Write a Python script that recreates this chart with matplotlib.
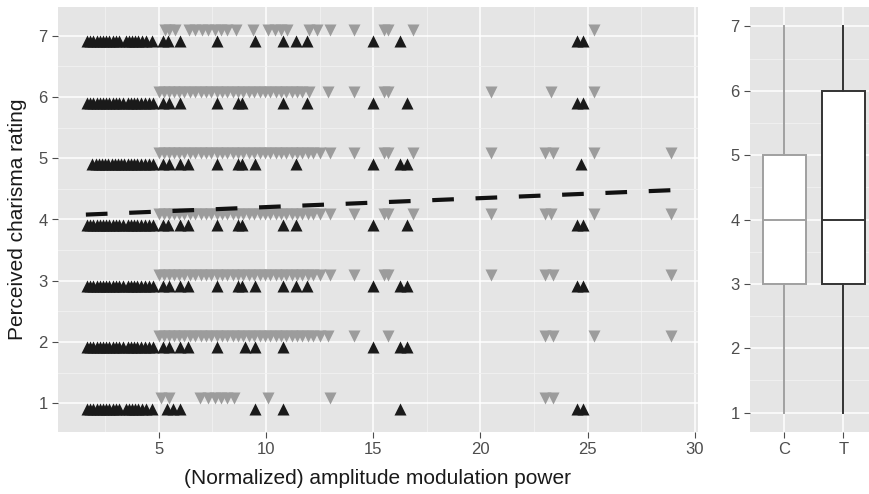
import numpy as np
import matplotlib.pyplot as plt
from matplotlib.ticker import MultipleLocator

plt.rcParams['font.family'] = ['Liberation Sans', 'DejaVu Sans']

''' Ratings (y) '''
ratings = [1, 2, 3, 4, 5, 6, 7]

''' Black upward triangles: x values per rating '''
black_r1 = [1.65, 1.8, 1.95, 2.1, 2.25, 2.4, 2.55, 2.7, 2.85, 3.0, 3.15, 3.45, 3.6, 3.75, 3.9, 4.05, 4.2, 4.4, 4.7,
            5.4, 5.65, 6.0, 9.5, 10.8, 16.25, 24.5, 24.8]
black_r2 = [1.65, 1.8, 1.95, 2.1, 2.25, 2.4, 2.55, 2.7, 2.85, 3.0, 3.15, 3.35, 3.55, 3.7, 3.85, 4.0, 4.15, 4.35, 4.55, 4.75,
            5.2, 5.5, 6.0, 6.35, 7.7, 9.0, 9.5, 10.8, 15.0, 16.25, 16.6]
black_r3 = [1.65, 1.8, 1.95, 2.1, 2.25, 2.4, 2.55, 2.7, 2.85, 3.0, 3.15, 3.35, 3.55, 3.7, 3.85, 4.0, 4.15, 4.35, 4.55, 4.75,
            5.2, 5.5, 6.0, 6.35, 7.7, 8.7, 8.9, 9.5, 10.8, 11.4, 11.9, 15.0, 16.25, 16.6, 24.5, 24.8]
black_r4 = [1.65, 1.8, 1.95, 2.1, 2.25, 2.4, 2.55, 2.7, 2.85, 3.0, 3.15, 3.35, 3.55, 3.7, 3.85, 4.0, 4.15, 4.35, 4.55, 4.75,
            5.2, 5.45, 6.0, 6.35, 7.7, 8.7, 8.9, 10.8, 11.4, 15.0, 16.6, 24.5, 24.8]
black_r5 = [1.9, 2.05, 2.2, 2.35, 2.5, 2.65, 2.8, 2.95, 3.1, 3.25, 3.4, 3.55, 3.7, 3.85, 4.0, 4.15, 4.35, 4.55, 4.75,
            5.2, 5.5, 6.0, 6.35, 7.7, 8.7, 8.9, 9.5, 11.4, 15.0, 16.25, 16.6, 24.7]
black_r6 = [1.65, 1.8, 1.95, 2.1, 2.25, 2.4, 2.55, 2.7, 2.85, 3.0, 3.15, 3.35, 3.55, 3.7, 3.85, 4.0, 4.15, 4.35, 4.55, 4.75,
            5.2, 5.5, 6.0, 7.7, 8.7, 8.9, 10.8, 11.9, 15.0, 16.6, 24.5, 24.8]
black_r7 = [1.65, 1.8, 1.95, 2.1, 2.25, 2.4, 2.55, 2.7, 2.85, 3.0, 3.15, 3.45, 3.6, 3.75, 3.9, 4.05, 4.2, 4.4, 4.7,
            5.2, 5.45, 6.0, 7.7, 9.5, 10.8, 11.4, 11.9, 15.0, 16.25, 24.5, 24.8]

''' Gray downward triangles: x values per rating '''
gray_r1 = [5.1, 5.5, 6.9, 7.3, 7.6, 7.9, 8.2, 8.5, 10.1, 13.0, 23.0, 23.4]
gray_r2 = [5.0, 5.25, 5.5, 5.7, 5.95, 6.2, 6.45, 6.7, 6.95, 7.2, 7.45, 7.7, 7.95, 8.2, 8.45, 8.7, 8.95, 9.2, 9.45,
           9.7, 9.95, 10.2, 10.45, 10.7, 10.95, 11.2, 11.45, 11.7, 11.95, 12.2, 12.5, 12.9, 14.1, 15.7, 23.0, 23.4, 25.3, 28.9]
gray_r3 = [5.0, 5.25, 5.5, 5.7, 5.95, 6.2, 6.45, 6.7, 6.95, 7.2, 7.45, 7.7, 7.95, 8.2, 8.45, 8.7, 8.95, 9.2, 9.45,
           9.7, 9.95, 10.2, 10.45, 10.7, 10.95, 11.2, 11.45, 11.7, 11.95, 12.2, 12.5, 13.0, 14.1, 15.5, 15.7, 20.5, 23.0, 23.4, 28.9]
gray_r4 = [5.0, 5.25, 5.5, 5.7, 5.95, 6.2, 6.45, 6.7, 6.95, 7.2, 7.45, 7.7, 7.95, 8.2, 8.45, 8.7, 8.95, 9.2, 9.45,
           9.7, 9.95, 10.2, 10.45, 10.7, 10.95, 11.2, 11.45, 11.7, 11.95, 12.2, 12.5, 13.0, 14.1, 15.5, 15.7, 16.85,
           20.5, 23.0, 23.3, 25.3, 28.9]
gray_r5 = [5.0, 5.25, 5.5, 5.7, 5.95, 6.2, 6.45, 6.7, 6.95, 7.2, 7.45, 7.7, 7.95, 8.2, 8.45, 8.7, 8.95, 9.2, 9.45,
           9.7, 9.95, 10.2, 10.45, 10.7, 10.95, 11.2, 11.45, 11.7, 11.95, 12.2, 12.5, 13.0, 14.1, 15.5, 15.7, 16.85,
           20.5, 23.0, 23.4, 25.3, 28.9]
gray_r6 = [5.0, 5.25, 5.5, 5.7, 5.95, 6.2, 6.45, 6.7, 6.95, 7.2, 7.45, 7.7, 7.95, 8.2, 8.45, 8.7, 8.95, 9.2, 9.45,
           9.7, 9.95, 10.2, 10.45, 10.7, 10.95, 11.2, 11.45, 11.7, 12.0, 12.9, 14.1, 15.5, 15.7, 20.5, 23.3, 25.3]
gray_r7 = [5.3, 5.5, 5.75, 6.4, 6.7, 7.0, 7.3, 7.6, 7.9, 8.2, 8.6, 9.4, 10.1, 10.4, 10.7, 11.0, 12.0, 12.4, 13.0,
           14.1, 15.5, 15.7, 16.85, 25.3]

black_rows = [black_r1, black_r2, black_r3, black_r4, black_r5, black_r6, black_r7]
gray_rows = [gray_r1, gray_r2, gray_r3, gray_r4, gray_r5, gray_r6, gray_r7]

''' Fitted trend line '''
trend_x = [1.6, 29.0]
trend_y = [4.08, 4.48]

''' Box plot summary per group '''
box_labels = ['C', 'T']
box_low = [1, 1]
box_q1 = [3, 3]
box_med = [4, 4]
box_q3 = [5, 6]
box_high = [7, 7]


def styleGG(ax):
    ax.set_facecolor('#e5e5e5')
    ax.grid(which='major', color='white', lw=1.1)
    ax.grid(which='minor', color='#f2f2f2', lw=0.6)
    ax.set_axisbelow(True)
    for s in ax.spines.values():
        s.set_visible(False)
    ax.tick_params(which='major', colors='#4d4d4d', labelsize=12, length=4, width=0.8)
    ax.tick_params(which='minor', length=0)


fig = plt.figure(figsize=(8.7, 4.94), dpi=100)
ax = fig.add_axes([58 / 870, 62 / 494, 640 / 870, 425 / 494])
ax2 = fig.add_axes([750 / 870, 62 / 494, 120 / 870, 425 / 494])

''' Scatter panel '''
styleGG(ax)
for r, xs in zip(ratings, gray_rows):
    ax.scatter(xs, [r + 0.09] * len(xs), marker='v', s=75, color='#9c9c9c', lw=0, zorder=3)
for r, xs in zip(ratings, black_rows):
    ax.scatter(xs, [r - 0.09] * len(xs), marker='^', s=75, color='#1a1a1a', lw=0, zorder=4)
ax.plot(trend_x, trend_y, color='#111111', lw=3, dashes=(5.2, 5.2), zorder=5, solid_capstyle='butt')

ax.set_xlim(0.3, 30.15)
ax.set_ylim(0.53, 7.47)
ax.xaxis.set_major_locator(MultipleLocator(5))
ax.xaxis.set_minor_locator(MultipleLocator(2.5))
ax.yaxis.set_major_locator(MultipleLocator(1))
ax.yaxis.set_minor_locator(MultipleLocator(0.5))
ax.set_xticks([5, 10, 15, 20, 25, 30])
ax.set_xlabel('(Normalized) amplitude modulation power', fontsize=15, color='#1a1a1a', labelpad=8)
ax.set_ylabel('Perceived charisma rating', fontsize=15, color='#1a1a1a', labelpad=8)

''' Box plot panel '''
styleGG(ax2)
stats = []
for i in range(2):
    stats.append({'label': box_labels[i], 'whislo': box_low[i], 'q1': box_q1[i], 'med': box_med[i],
                  'q3': box_q3[i], 'whishi': box_high[i]})
colors = ['#a0a0a0', '#333333']
for i, st in enumerate(stats):
    c = colors[i]
    ax2.bxp([st], positions=[i + 1], widths=0.73, showfliers=False, patch_artist=True,
            boxprops=dict(facecolor='white', edgecolor=c, lw=1.4),
            medianprops=dict(color=c, lw=1.4),
            whiskerprops=dict(color=c, lw=1.4),
            capprops=dict(visible=False), zorder=3)
ax2.set_xlim(0.42, 2.45)
ax2.set_ylim(0.7, 7.3)
ax2.set_xticks([1, 2])
ax2.set_xticklabels(box_labels)
ax2.yaxis.set_major_locator(MultipleLocator(1))
ax2.yaxis.set_minor_locator(MultipleLocator(0.5))

fig.savefig('out.png', dpi=100)
